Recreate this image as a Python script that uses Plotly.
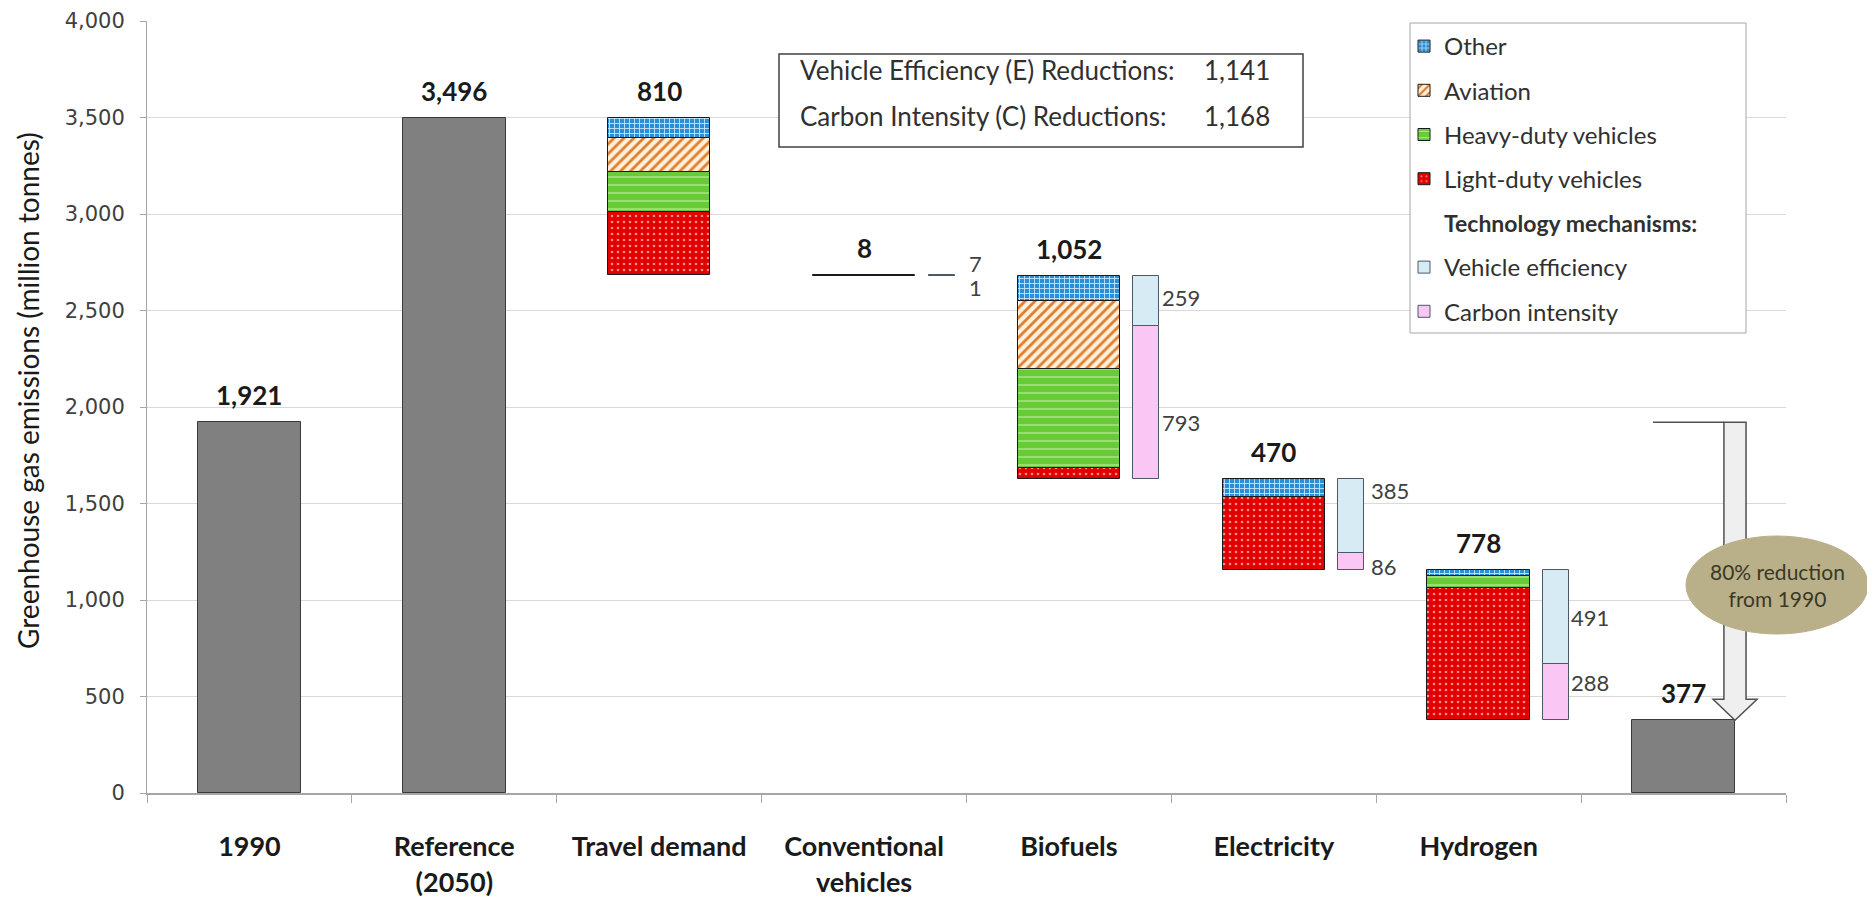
import plotly.graph_objects as go

# ---------------- data ----------------
categories = ["1990", "Reference<br>(2050)", "Travel demand", "Conventional<br>vehicles",
              "Biofuels", "Electricity", "Hydrogen", ""]
emissions_1990 = 1921
reference_2050 = 3496
target_2050 = 377

step_names = ["Travel demand", "Conventional vehicles", "Biofuels", "Electricity", "Hydrogen"]
step_totals = [810, 8, 1052, 470, 778]
light_duty = [325, None, 60, 380, 684]
heavy_duty = [207, None, 510, None, 64]
aviation = [178, None, 353, None, None]
other = [100, 8, 129, 90, 30]

mech_names = ["Conventional vehicles", "Biofuels", "Electricity", "Hydrogen"]
vehicle_eff = [7, 259, 385, 491]
carbon_int = [1, 793, 86, 288]
eff_total = 1141
carbon_total = 1168

y_ticks = [0, 500, 1000, 1500, 2000, 2500, 3000, 3500, 4000]

# ---------------- derived positions ----------------
FONT = "Lato"
step_x = [categories.index(n) if n in categories else i + 2 for i, n in enumerate(step_names)]
mech_x_pos = step_x[1:]
MECH_OFF = 0.378
MECH_W = 0.127
BAR_W = 0.5

bottoms = []
level = reference_2050
for t in step_totals:
    level -= t
    bottoms.append(level)


def z(v):
    return 0 if v is None else v


base_light = bottoms[:]
base_heavy = [b + z(l) for b, l in zip(base_light, light_duty)]
base_av = [b + z(h) for b, h in zip(base_heavy, heavy_duty)]
base_other = [b + z(a) for b, a in zip(base_av, aviation)]

mech_bottom = bottoms[1:]
eff_base = [b + c for b, c in zip(mech_bottom, carbon_int)]
mech_x = [x + MECH_OFF for x in mech_x_pos]

fig = go.Figure()

OUT = dict(color="#1a1a1a", width=1)

# grey totals
fig.add_trace(go.Bar(x=[0, 1, 7], y=[emissions_1990, reference_2050, target_2050],
                     width=BAR_W, marker=dict(color="#808080", line=dict(color="#3a3a3a", width=1)),
                     showlegend=False, hoverinfo="y"))

sectors = [
    ("Other", other, base_other, dict(shape="+", bgcolor="#2a8fd6", fgcolor="#d2ecff", size=5, solidity=0.3)),
    ("Aviation", aviation, base_av, dict(shape="/", bgcolor="#fff1de", fgcolor="#e07d2a", size=7, solidity=0.4)),
    ("Heavy-duty vehicles", heavy_duty, base_heavy, dict(shape="-", bgcolor="#68cc38", fgcolor="#b8eb98", size=8, solidity=0.15)),
    ("Light-duty vehicles", light_duty, base_light, dict(shape=".", bgcolor="#e00000", fgcolor="#ff8a8a", size=6, solidity=0.15)),
]
rank = 1
for name, vals, base, pat in sectors:
    pat = dict(pat, fillmode="replace")
    fig.add_trace(go.Bar(x=step_x, y=vals, base=base, width=BAR_W, name=name,
                         marker=dict(color=pat["bgcolor"], pattern=pat, line=OUT),
                         legendgroup=name, legendrank=rank))
    rank += 1

# header entry in legend
fig.add_trace(go.Bar(x=[None], y=[None],
                     name="<b><span style='font-size:23px'>Technology mechanisms:</span></b>",
                     marker=dict(color="rgba(0,0,0,0)", line=dict(width=0)),
                     legendgroup="hdr", legendrank=rank))
rank += 1

fig.add_trace(go.Bar(x=mech_x, y=vehicle_eff, base=eff_base, width=MECH_W, name="Vehicle efficiency",
                     marker=dict(color="#d7ebf5", line=dict(color="#4a5868", width=1)),
                     legendgroup="ve", legendrank=rank))
rank += 1
fig.add_trace(go.Bar(x=mech_x, y=carbon_int, base=mech_bottom, width=MECH_W, name="Carbon intensity",
                     marker=dict(color="#fac6f4", line=dict(color="#4a5868", width=1)),
                     legendgroup="ci", legendrank=rank))

annotations = []
# bold total labels
tot_x = [0, 1] + step_x + [7]
tot_top = [emissions_1990, reference_2050] + [b + t for b, t in zip(bottoms, step_totals)] + [target_2050]
tot_val = [emissions_1990, reference_2050] + step_totals + [target_2050]
for x, yv, v in zip(tot_x, tot_top, tot_val):
    annotations.append(dict(x=x, y=yv, text=f"<b>{v:,}</b>", showarrow=False, yshift=27,
                            yanchor="middle", font=dict(family=FONT, size=26, color="#1a1a1a")))

# mechanism value labels
eff_shift = [12, 4, 26, 0]
carb_shift = [-12, -20, -5, 10]
lab_xshift = [12, 1, 5, 0]
for i in range(len(mech_x)):
    xr = mech_x[i] + MECH_W / 2
    ye = eff_base[i] + vehicle_eff[i] / 2
    yc = mech_bottom[i] + carbon_int[i] / 2
    if i == 0:
        ye = yc = mech_bottom[i] + (vehicle_eff[i] + carbon_int[i]) / 2
    annotations.append(dict(x=xr, y=ye, text=f"{vehicle_eff[i]:,}", showarrow=False, xanchor="left",
                            xshift=lab_xshift[i], yshift=eff_shift[i], yanchor="middle",
                            font=dict(family=FONT, size=22, color="#404040")))
    annotations.append(dict(x=xr, y=yc, text=f"{carbon_int[i]:,}", showarrow=False, xanchor="left",
                            xshift=lab_xshift[i], yshift=carb_shift[i], yanchor="middle",
                            font=dict(family=FONT, size=22, color="#404040")))

# page-pixel helpers (plot area: x 147..1786, y 21..793 in page pixels)
PX0, PW, PY0, PH = 147, 1639, 793, 772


def px(x):
    return (x - PX0) / PW


def py(y):
    return (PY0 - y) / PH


# y-axis title
annotations.append(dict(xref="paper", yref="paper", x=px(28), y=py(391), xanchor="center",
                        yanchor="middle", textangle=-90,
                        text="Greenhouse gas emissions (million tonnes)", showarrow=False,
                        font=dict(family=FONT, size=28, color="#1a1a1a")))

box_font = dict(family=FONT, size=26, color="#303030")
annotations += [
    dict(xref="paper", yref="paper", x=px(798), y=py(70), xanchor="left", yanchor="middle",
         text="Vehicle Efficiency (E) Reductions:", showarrow=False, font=box_font),
    dict(xref="paper", yref="paper", x=px(1202), y=py(70), xanchor="left", yanchor="middle",
         text=f"{eff_total:,}", showarrow=False, font=box_font),
    dict(xref="paper", yref="paper", x=px(798), y=py(116), xanchor="left", yanchor="middle",
         text="Carbon Intensity (C) Reductions:", showarrow=False, font=box_font),
    dict(xref="paper", yref="paper", x=px(1202), y=py(116), xanchor="left", yanchor="middle",
         text=f"{carbon_total:,}", showarrow=False, font=box_font),
    dict(xref="paper", yref="paper", x=px(1777), y=py(585), xanchor="center", yanchor="middle",
         text="80% reduction<br>from 1990", showarrow=False,
         font=dict(family=FONT, size=21, color="#3a3826")),
]

# arrow geometry (data coords)
head_h = 109
xl, xs0, xs1, xh0, xh1, xt = 6.851, 7.197, 7.305, 7.144, 7.359, 7.251
ytop = emissions_1990
yhead = target_2050 + head_h
arrow_path = (f"M {xs0},{ytop} L {xs1},{ytop} L {xs1},{yhead} L {xh1},{yhead} "
              f"L {xt},{target_2050} L {xh0},{yhead} L {xs0},{yhead} Z")

shapes = [
    # summary box
    dict(type="rect", xref="paper", yref="paper", x0=px(779), x1=px(1303), y0=py(147), y1=py(54),
         line=dict(color="#404040", width=1.5), fillcolor="white", layer="above"),
    # legend box
    dict(type="rect", xref="paper", yref="paper", x0=px(1410), x1=px(1746), y0=py(333), y1=py(23),
         line=dict(color="#a6a6a6", width=1), fillcolor="white", layer="above"),
    dict(type="line", xref="x", yref="y", x0=xl, x1=xs0, y0=ytop, y1=ytop,
         line=dict(color="#505050", width=1.5), layer="above"),
    dict(type="path", xref="x", yref="y", path=arrow_path, fillcolor="#efefef",
         line=dict(color="#505050", width=1.5), layer="above"),
    dict(type="circle", xref="paper", yref="paper", x0=px(1686), x1=px(1868), y0=py(634), y1=py(536),
         fillcolor="#b9b089", line=dict(color="#b9b089", width=1), layer="above"),
]

fig.update_layout(
    width=1867, height=892,
    margin=dict(l=139, r=89, t=13, b=107, autoexpand=False),
    paper_bgcolor="white", plot_bgcolor="white",
    barmode="overlay", bargap=0,
    font=dict(family=FONT, color="#1a1a1a"),
    annotations=annotations, shapes=shapes,
    legend=dict(x=px(1404), y=py(24), xanchor="left", yanchor="top",
                bgcolor="rgba(0,0,0,0)", borderwidth=0,
                font=dict(family=FONT, size=24, color="#303030"),
                traceorder="grouped", tracegroupgap=10, itemwidth=30),
    xaxis=dict(range=[-0.5, 7.5], tickvals=list(range(len(categories))),
               ticktext=[f"<b>{c}</b>" for c in categories],
               ticks="outside", ticklen=0, ticklabelstandoff=29, automargin=False,
               tickfont=dict(family=FONT, size=27, color="#1a1a1a"),
               showline=True, linecolor="#a6a6a6", linewidth=2, showgrid=False, zeroline=False,
               minor=dict(tickvals=[i - 0.5 for i in range(len(categories) + 1)],
                          ticks="outside", ticklen=8, tickcolor="#a6a6a6", showgrid=False),
               fixedrange=True),
    yaxis=dict(range=[0, 4000], tickvals=y_ticks, tickformat=",",
               ticks="outside", ticklen=6, tickcolor="#a6a6a6", automargin=False,
               tickfont=dict(family="DejaVu Sans", size=21, color="#404040"),
               ticklabelstandoff=11,
               showline=True, linecolor="#a6a6a6", linewidth=1,
               showgrid=True, gridcolor="#d9d9d9", gridwidth=1, zeroline=False,
               fixedrange=True),
)

fig.write_html("out.html")
